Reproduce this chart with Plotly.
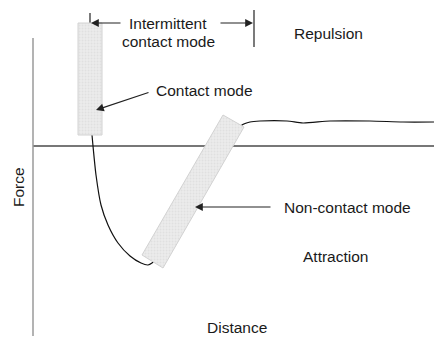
import plotly.graph_objects as go

# distance / force units: origin where the two axes cross
curve_x = [59, 60, 63, 68, 75, 85, 97, 108, 115, 119, 140, 167, 190, 209, 217, 227, 254, 270, 297, 337, 370, 401]
curve_y = [11, 0, -29, -59, -79, -97, -110, -117, -119, -117, -95, -44, -5, 21, 24, 25, 25, 23, 25, 25, 24, 24]

contact_x = [45, 69, 69, 45, 45]
contact_y = [123, 123, 11, 11, 123]

noncontact_x = [190, 211, 130, 109, 190]
noncontact_y = [31, 19, -122, -109, 31]

axis_top, axis_bottom, axis_right = 108, -190, 401

tick_left_x, tick_left_y = [57, 57], [133, 123]
tick_right_x, tick_right_y = [221, 221], [136, 99]

FONT = "Arial, Liberation Sans, sans-serif"
TEXT = "#1a1a1a"

fig = go.Figure()

fig.add_trace(go.Scatter(x=[0, axis_right], y=[0, 0], mode="lines",
                         line=dict(color="#4a4a4a", width=1.3), hoverinfo="skip"))
fig.add_trace(go.Scatter(x=[0, 0], y=[axis_top, axis_bottom], mode="lines",
                         line=dict(color="#9a9a9a", width=1.5), hoverinfo="skip"))

fig.add_trace(go.Scatter(x=curve_x, y=curve_y, mode="lines",
                         line=dict(color="#111111", width=1.2, shape="spline", smoothing=0.7),
                         hoverinfo="skip"))

for xs, ys in [(tick_left_x, tick_left_y), (tick_right_x, tick_right_y)]:
    fig.add_trace(go.Scatter(x=xs, y=ys, mode="lines",
                             line=dict(color="#222222", width=1.2), hoverinfo="skip"))

for xs, ys in [(contact_x, contact_y), (noncontact_x, noncontact_y)]:
    fig.add_trace(go.Scatter(
        x=xs, y=ys, mode="lines", fill="toself",
        fillcolor="#e9e9e9",
        fillpattern=dict(shape=".", bgcolor="#ebebeb", fgcolor="#d6d6d6", size=3, solidity=0.3),
        line=dict(color="#d2d2d2", width=1), hoverinfo="skip"))

# arrows: (tip, tail)
arrows = [
    ((58, 123), (89, 123)),
    ((220, 123), (186, 123)),
    ((63, 36), (117, 54)),
    ((162, -61), (239, -61)),
]
for (tx, ty), (sx, sy) in arrows:
    fig.add_annotation(x=tx, y=ty, ax=sx, ay=sy, xref="x", yref="y", axref="x", ayref="y",
                       text="", showarrow=True, arrowhead=2, arrowsize=1.3,
                       arrowwidth=1.2, arrowcolor="#222222")

labels = [
    ("Intermittent", 135, 123, "center", 0),
    ("contact mode", 135, 105, "center", 0),
    ("Contact mode", 171, 56, "center", 0),
    ("Non-contact mode", 249, -61, "left", 0),
    ("Repulsion", 295, 113, "center", 0),
    ("Attraction", 302, -110, "center", 0),
    ("Distance", 204, -181, "center", 0),
    ("Force", -15, -41, "center", -90),
]
for text, x, y, anchor, angle in labels:
    fig.add_annotation(x=x, y=y, xref="x", yref="y", text=text, showarrow=False,
                       xanchor=anchor, yanchor="middle", textangle=angle,
                       font=dict(family=FONT, size=15.5, color=TEXT))

fig.update_layout(
    width=434, height=338,
    margin=dict(l=0, r=0, t=0, b=0),
    paper_bgcolor="white", plot_bgcolor="white",
    showlegend=False,
    xaxis=dict(range=[-33, 401], visible=False, fixedrange=True),
    yaxis=dict(range=[-192, 146], visible=False, fixedrange=True),
)

fig.write_html("out.html", config={"displayModeBar": False},
               post_script="document.body.style.margin='0';")
